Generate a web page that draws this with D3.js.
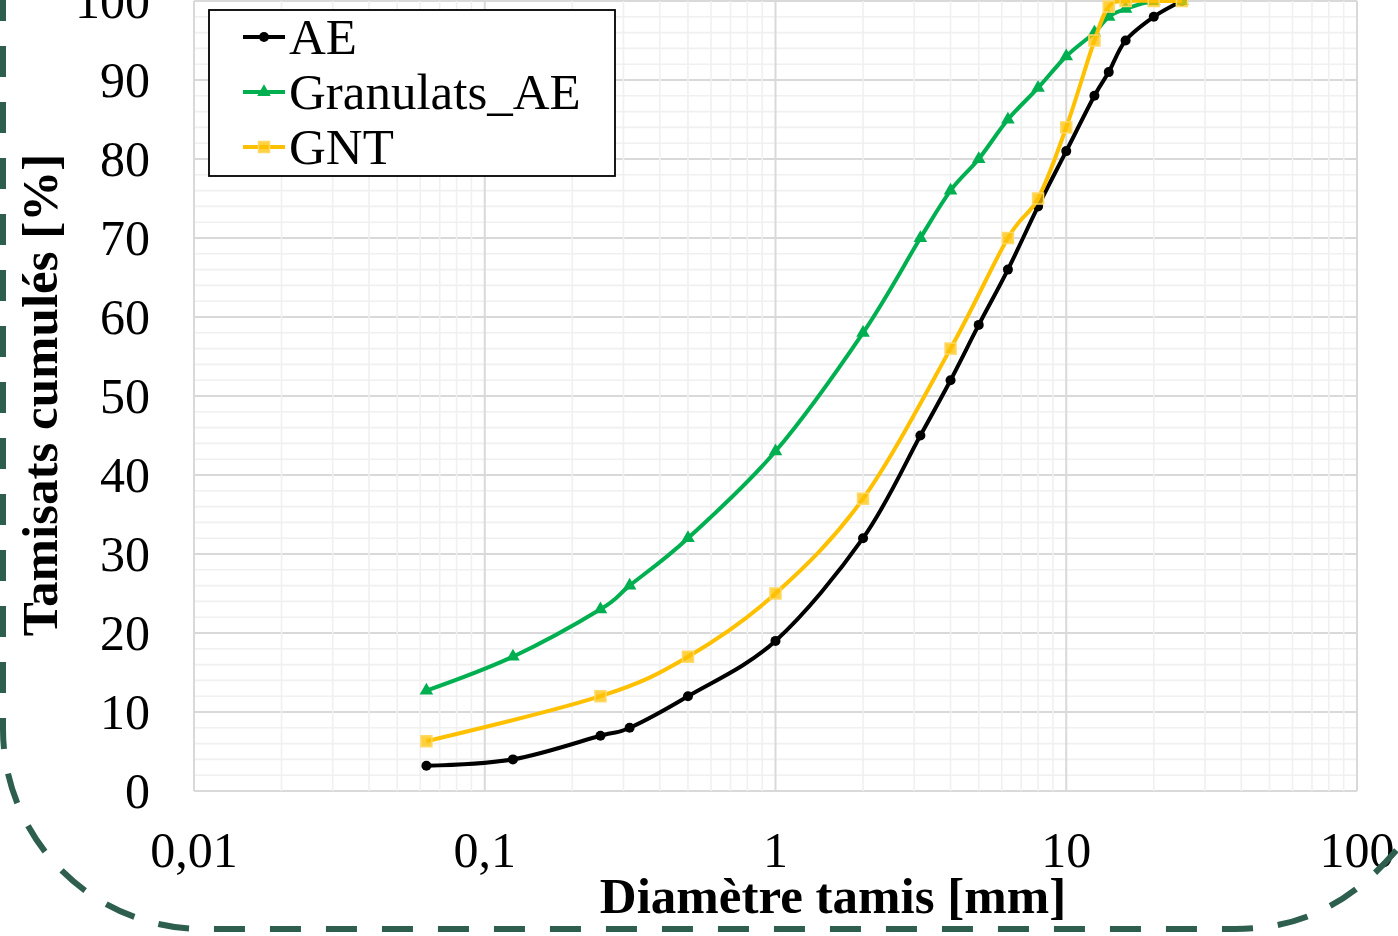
<!DOCTYPE html>
<html>
<head>
<meta charset="utf-8">
<script src="https://cdn.jsdelivr.net/npm/d3@7"></script>
<style>
  body { margin: 0; background: #fff; }
  svg text { font-family: "Liberation Serif", "Times New Roman", serif; fill: #000; }
</style>
</head>
<body>
<div id="chart"></div>
<script>
// sieve sizes (mm)
var sievesAE = [0.063, 0.125, 0.25, 0.315, 0.5, 1, 2, 3.15, 4, 5, 6.3, 8, 10, 12.5, 14, 16, 20, 25];
var valuesAE = [3.2, 4, 7, 8, 12, 19, 32, 45, 52, 59, 66, 74, 81, 88, 91, 95, 98, 100];

var sievesGranulats = [0.063, 0.125, 0.25, 0.315, 0.5, 1, 2, 3.15, 4, 5, 6.3, 8, 10, 12.5, 14, 16, 20, 25];
var valuesGranulats = [12.7, 17, 23, 26, 32, 43, 58, 70, 76, 80, 85, 89, 93, 96, 98, 99, 100, 100];

var sievesGNT = [0.063, 0.25, 0.5, 1, 2, 4, 6.3, 8, 10, 12.5, 14, 16, 20, 25];
var valuesGNT = [6.3, 12, 17, 25, 37, 56, 70, 75, 84, 95, 99.3, 100, 100, 100];

var seriesNames = ["AE", "Granulats_AE", "GNT"];
var seriesColors = ["#000000", "#00b050", "#ffc000"];

var xTickValues = [0.01, 0.1, 1, 10, 100];
var xTickLabels = ["0,01", "0,1", "1", "10", "100"];
var yTickValues = [0, 10, 20, 30, 40, 50, 60, 70, 80, 90, 100];

var width = 1398;
var height = 936;

var svg = d3.select("#chart").append("svg")
  .attr("width", width)
  .attr("height", height);

var x = d3.scaleLog().domain([0.01, 100]).range([194, 1357]);
var y = d3.scaleLinear().domain([0, 100]).range([791, 1]);

/*----------------------
GRID
----------------------*/
var grid = svg.append("g");

// horizontal lines every 2, darker every 10
grid.selectAll(".hminor")
  .data(d3.range(0, 101, 2))
  .enter().append("line")
  .attr("x1", x(0.01)).attr("x2", x(100))
  .attr("y1", d => y(d)).attr("y2", d => y(d))
  .attr("stroke", d => d % 10 == 0 ? "#d9d9d9" : "#f0f0f0")
  .attr("stroke-width", d => d % 10 == 0 ? 2 : 1.6);

// vertical lines (log ticks 1..9 per decade)
grid.selectAll(".vline")
  .data(x.ticks())
  .enter().append("line")
  .attr("x1", d => x(d)).attr("x2", d => x(d))
  .attr("y1", y(0)).attr("y2", y(100))
  .attr("stroke", d => xTickValues.some(t => Math.abs(t - d) < 1e-9) ? "#d9d9d9" : "#f0f0f0")
  .attr("stroke-width", d => xTickValues.some(t => Math.abs(t - d) < 1e-9) ? 2 : 1.6);

/*----------------------
AXES LABELS
----------------------*/
svg.append("g").selectAll("text")
  .data(yTickValues)
  .enter().append("text")
  .attr("x", 150)
  .attr("y", d => y(d) + 17)
  .attr("text-anchor", "end")
  .style("font-size", "50px")
  .text(d => d);

svg.append("g").selectAll("text")
  .data(xTickValues)
  .enter().append("text")
  .attr("x", d => x(d))
  .attr("y", 867)
  .attr("text-anchor", "middle")
  .style("font-size", "50px")
  .text((d, i) => xTickLabels[i]);

svg.append("text")
  .attr("x", 833)
  .attr("y", 913)
  .attr("text-anchor", "middle")
  .style("font-size", "51px")
  .style("font-weight", "bold")
  .text("Diamètre tamis [mm]");

svg.append("text")
  .attr("transform", "translate(57,395) rotate(-90)")
  .attr("text-anchor", "middle")
  .style("font-size", "51px")
  .style("font-weight", "bold")
  .text("Tamisats cumulés [%]");

/*----------------------
SERIES
----------------------*/
var line = d3.line()
  .x(d => x(d[0]))
  .y(d => y(d[1]))
  .curve(d3.curveCatmullRom.alpha(0));

var allSeries = [
  d3.zip(sievesAE, valuesAE),
  d3.zip(sievesGranulats, valuesGranulats),
  d3.zip(sievesGNT, valuesGNT)
];

function drawMarker(g, kind, cx, cy, color) {
  if (kind == 0) {
    g.append("circle").attr("cx", cx).attr("cy", cy).attr("r", 5).attr("fill", color);
  } else if (kind == 1) {
    g.append("path")
      .attr("d", d3.symbol().type(d3.symbolTriangle).size(80)())
      .attr("transform", `translate(${cx},${cy})`)
      .attr("fill", color);
  } else {
    g.append("rect")
      .attr("x", cx - 5.5).attr("y", cy - 5.5)
      .attr("width", 11).attr("height", 11)
      .attr("fill", color).attr("fill-opacity", 0.75)
      .attr("stroke", "#ffd966").attr("stroke-width", 1.5);
  }
}

allSeries.forEach(function (pts, i) {
  var g = svg.append("g");
  g.append("path")
    .attr("d", line(pts))
    .attr("fill", "none")
    .attr("stroke", seriesColors[i])
    .attr("stroke-width", 4);
  pts.forEach(p => drawMarker(g, i, x(p[0]), y(p[1]), seriesColors[i]));
});

/*----------------------
LEGEND
----------------------*/
var legend = svg.append("g");
legend.append("rect")
  .attr("x", 209).attr("y", 10)
  .attr("width", 406).attr("height", 166)
  .attr("fill", "#fff")
  .attr("stroke", "#000")
  .attr("stroke-width", 1.8);

seriesNames.forEach(function (name, i) {
  var ly = 37 + i * 55;
  legend.append("line")
    .attr("x1", 243).attr("x2", 285)
    .attr("y1", ly).attr("y2", ly)
    .attr("stroke", seriesColors[i])
    .attr("stroke-width", 4);
  drawMarker(legend, i, 264, ly, seriesColors[i]);
  legend.append("text")
    .attr("x", 289)
    .attr("y", ly + 17)
    .style("font-size", "51px")
    .text(name);
});

/*----------------------
DASHED FRAME
----------------------*/
svg.append("path")
  .attr("d", "M3,-10 L3,729 A200,200 0 0 0 203,929 L1235,929 C1300,929 1360,905 1420,820")
  .attr("fill", "none")
  .attr("stroke", "#2d5e4e")
  .attr("stroke-width", 6)
  .attr("stroke-dasharray", "31,25");
</script>
</body>
</html>
